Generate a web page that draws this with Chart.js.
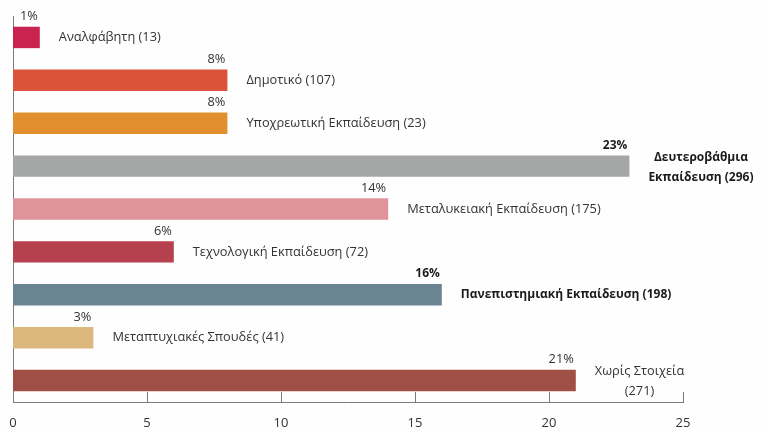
<!DOCTYPE html>
<html>
<head>
<meta charset="utf-8">
<script src="https://cdn.jsdelivr.net/npm/chart.js@4/dist/chart.umd.min.js"></script>
<style>
    body { margin: 0; background: #fefefe; }
    #wrap { width: 765px; height: 431px; position: relative; }
</style>
</head>
<body>
<div id="wrap"><canvas id="eduChart"></canvas></div>
<script>
// Chart data
const categories = ['Αναλφάβητη', 'Δημοτικό', 'Υποχρεωτική Εκπαίδευση', 'Δευτεροβάθμια Εκπαίδευση',
    'Μεταλυκειακή Εκπαίδευση', 'Τεχνολογική Εκπαίδευση', 'Πανεπιστημιακή Εκπαίδευση',
    'Μεταπτυχιακές Σπουδές', 'Χωρίς Στοιχεία'];
const percents = [1, 8, 8, 23, 14, 6, 16, 3, 21];
const counts = [13, 107, 23, 296, 175, 72, 198, 41, 271];
const highlighted = [false, false, false, true, false, false, true, false, false];
// label text as shown next to each bar (some wrap onto two lines)
const labelLines = [
    ['Αναλφάβητη (13)'],
    ['Δημοτικό (107)'],
    ['Υποχρεωτική Εκπαίδευση (23)'],
    ['Δευτεροβάθμια', 'Εκπαίδευση (296)'],
    ['Μεταλυκειακή Εκπαίδευση (175)'],
    ['Τεχνολογική Εκπαίδευση (72)'],
    ['Πανεπιστημιακή Εκπαίδευση (198)'],
    ['Μεταπτυχιακές Σπουδές (41)'],
    ['Χωρίς Στοιχεία', '(271)']
];
const xTicks = [0, 5, 10, 15, 20, 25];
const barColors = ['#c9244f', '#da533a', '#e2902f', '#a4a7a6', '#df939a',
    '#b5404e', '#6b8494', '#ddb87e', '#a04f46'];

const FONT = '"Open Sans", "Noto Sans", sans-serif';

// Draws % above bar ends and category labels to the right
const barLabels = {
    id: 'barLabels',
    afterDatasetsDraw(chart) {
        const ctx = chart.ctx;
        const bars = chart.getDatasetMeta(0).data;
        ctx.save();
        bars.forEach((bar, i) => {
            const bold = highlighted[i];
            ctx.fillStyle = bold ? '#1a1a1a' : '#333';
            ctx.font = bold ? 'bold 12px ' + FONT : '12.8px ' + FONT;
            ctx.textBaseline = 'middle';

            // percentage
            ctx.textAlign = 'right';
            ctx.fillText(percents[i] + '%', bar.x - 2, bar.y - bar.height / 2 - 10);

            // category label
            const lines = labelLines[i];
            const startX = bar.x + 19;
            if (lines.length === 1) {
                ctx.textAlign = 'left';
                ctx.fillText(lines[0], startX, bar.y);
            } else {
                const maxW = Math.max(...lines.map(l => ctx.measureText(l).width));
                ctx.textAlign = 'center';
                lines.forEach((l, k) => {
                    ctx.fillText(l, startX + maxW / 2, bar.y + (k - (lines.length - 1) / 2) * 20 + 1);
                });
            }
        });
        ctx.restore();
    }
};

// Tick marks pointing up from the x axis
const innerTicks = {
    id: 'innerTicks',
    afterDraw(chart) {
        const ctx = chart.ctx;
        const xs = chart.scales.x;
        const bottom = chart.chartArea.bottom;
        ctx.save();
        ctx.strokeStyle = '#7a7a7a';
        ctx.lineWidth = 1;
        xTicks.forEach(v => {
            const px = Math.round(xs.getPixelForValue(v)) + 0.5;
            ctx.beginPath();
            ctx.moveTo(px, bottom);
            ctx.lineTo(px, bottom - 10);
            ctx.stroke();
        });
        ctx.restore();
    }
};

const ctx = document.getElementById('eduChart').getContext('2d');
const eduChart = new Chart(ctx, {
    type: 'bar',
    data: {
        labels: categories,
        datasets: [{
            data: percents,
            backgroundColor: barColors,
            borderWidth: 0,
            barPercentage: 0.5,
            categoryPercentage: 1
        }]
    },
    options: {
        indexAxis: 'y',
        responsive: true,
        maintainAspectRatio: false,
        animation: false,
        layout: { padding: { left: 0, right: 82, top: 16, bottom: 0 } },
        plugins: {
            legend: { display: false },
            tooltip: { enabled: false }
        },
        scales: {
            x: {
                min: 0,
                max: 25,
                afterBuildTicks: (scale) => { scale.ticks = xTicks.map(v => ({ value: v })); },
                afterFit: (scale) => {
                    scale.height = 29;
                    scale.paddingLeft = 0;
                    scale.paddingRight = 0;
                },
                grid: { display: false, drawTicks: false },
                border: { display: true, color: '#7a7a7a' },
                ticks: {
                    padding: 13,
                    color: '#333',
                    font: { family: FONT, size: 13 }
                }
            },
            y: {
                afterFit: (scale) => { scale.width = 13; },
                grid: { display: false, drawTicks: false },
                border: { display: true, color: '#7a7a7a' },
                ticks: { display: false }
            }
        }
    },
    plugins: [barLabels, innerTicks]
});
</script>
</body>
</html>
